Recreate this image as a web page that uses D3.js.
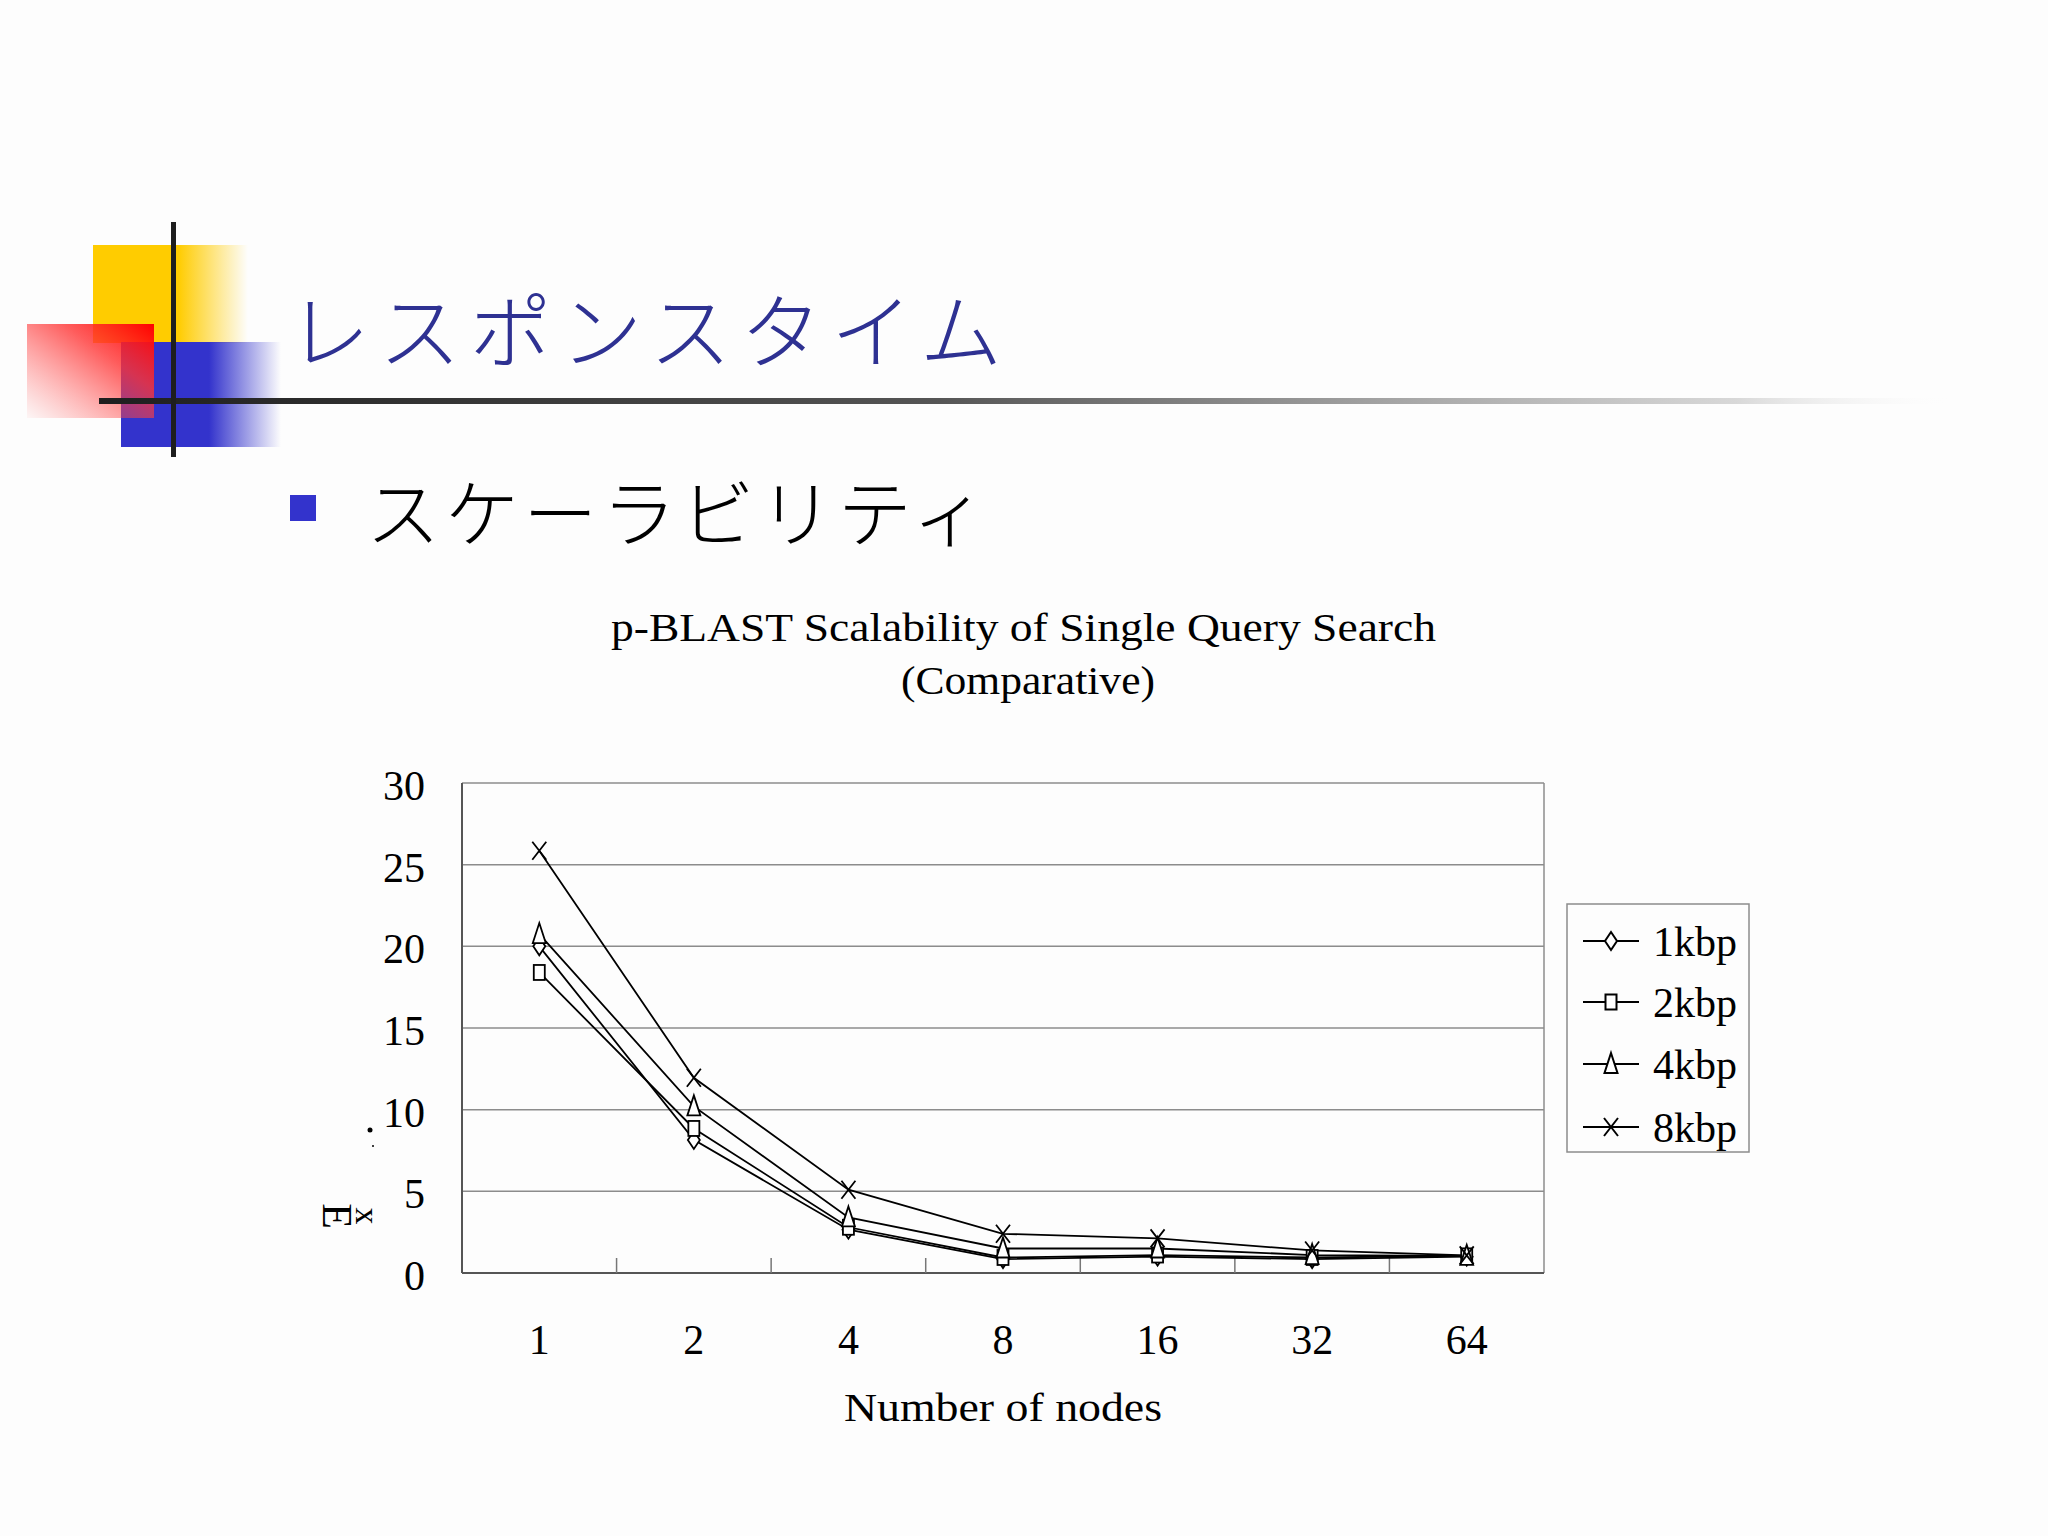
<!DOCTYPE html>
<html><head><meta charset="utf-8">
<script src="https://cdn.jsdelivr.net/npm/d3@7"></script>
<style>html,body{margin:0;padding:0;background:#fdfdfd;}svg{display:block;}</style>
</head><body>
<script>
const categories = ["1","2","4","8","16","32","64"];
const s1kbp = [20.0, 8.15, 2.65, 0.85, 1.0, 0.85, 1.0];
const s2kbp = [18.4, 8.85, 2.8, 0.95, 1.1, 0.95, 1.05];
const s4kbp = [20.75, 10.2, 3.4, 1.5, 1.5, 1.1, 1.05];
const s8kbp = [25.85, 11.95, 5.1, 2.4, 2.12, 1.38, 1.08];
const seriesNames = ["1kbp","2kbp","4kbp","8kbp"];
const seriesValues = [s1kbp, s2kbp, s4kbp, s8kbp];
const markerTypes = ["diamond","square","triangle","cross"];
const yTicks = [0,5,10,15,20,25,30];
const headerTitle = "レスポンスタイム";
const bulletText = "スケーラビリティ";
const chartTitle1 = "p-BLAST Scalability of Single Query Search";
const chartTitle2 = "(Comparative)";
const xTitle = "Number of nodes";

(function () {
const W = 2048, H = 1536;
const svg = d3.select("body").append("svg").attr("width", W).attr("height", H);
svg.append("rect").attr("width", W).attr("height", H).attr("fill", "#fdfdfd");
const defs = svg.append("defs");

function lg(id, x1, y1, x2, y2, stops) {
  const g = defs.append("linearGradient").attr("id", id)
    .attr("x1", x1).attr("y1", y1).attr("x2", x2).attr("y2", y2);
  stops.forEach(s => g.append("stop").attr("offset", s[0]).attr("stop-color", s[1]).attr("stop-opacity", s[2] ?? 1));
}
lg("gY", "0", "0", "1", "0", [["0", "#ffcc00"], ["0.55", "#ffcc00"], ["1", "#ffcc00", 0]]);
lg("gB", "0", "0", "1", "0", [["0", "#3333cc"], ["0.55", "#3333cc"], ["1", "#3333cc", 0]]);
lg("gR", "1", "0", "0", "1", [["0", "#ff0000"], ["0.35", "#ff3333", 0.8], ["1", "#ff6666", 0.05]]);
lg("gH", "0", "0", "1", "0", [["0", "#1e1e1e"], ["0.45", "#555555"], ["0.7", "#a6a6a6"], ["0.88", "#d8d8d8"], ["1", "#ffffff", 0]]);

svg.append("rect").attr("x", 93).attr("y", 245).attr("width", 155).attr("height", 98).attr("fill", "url(#gY)");
svg.append("rect").attr("x", 121).attr("y", 342).attr("width", 160).attr("height", 105).attr("fill", "url(#gB)");
svg.append("rect").attr("x", 27).attr("y", 324).attr("width", 127).attr("height", 94).attr("fill", "url(#gR)");
svg.append("rect").attr("x", 99).attr("y", 398).attr("width", 1861).attr("height", 6).attr("fill", "url(#gH)");
svg.append("rect").attr("x", 171).attr("y", 222).attr("width", 5).attr("height", 235).attr("fill", "#1e1e1e");

svg.append("text").attr("x", 288).attr("y", 362)
  .attr("font-family", "'Noto Sans CJK JP'").attr("font-size", 82).attr("font-weight", 300)
  .attr("fill", "#2e3192").attr("textLength", 714).attr("lengthAdjust", "spacing").text(headerTitle);

svg.append("rect").attr("x", 290).attr("y", 495).attr("width", 26).attr("height", 26).attr("fill", "#3333cc");
svg.append("text").attr("x", 366).attr("y", 541)
  .attr("font-family", "'Noto Sans CJK JP'").attr("font-size", 74).attr("font-weight", 300)
  .attr("fill", "#000").attr("textLength", 620).attr("lengthAdjust", "spacing").text(bulletText);

const serif = "'Liberation Serif', 'DejaVu Serif', serif";
svg.append("text").attr("x", 611).attr("y", 641).attr("font-family", serif).attr("font-size", 40)
  .attr("textLength", 825).attr("lengthAdjust", "spacingAndGlyphs").text(chartTitle1);
svg.append("text").attr("x", 901).attr("y", 694).attr("font-family", serif).attr("font-size", 40)
  .attr("textLength", 254).attr("lengthAdjust", "spacingAndGlyphs").text(chartTitle2);

const pL = 462, pR = 1544, pT = 783, pB = 1273;
const x = d3.scaleBand().domain(categories).range([pL, pR]);
const y = d3.scaleLinear().domain([0, 30]).range([pB, pT]);

const g = svg.append("g");
g.selectAll("line.grid").data(yTicks.filter(t => t > 0)).join("line")
  .attr("x1", pL).attr("x2", pR).attr("y1", d => y(d)).attr("y2", d => y(d))
  .attr("stroke", "#8c8c8c").attr("stroke-width", 1.5);
g.append("line").attr("x1", pR).attr("x2", pR).attr("y1", pT).attr("y2", pB).attr("stroke", "#8c8c8c").attr("stroke-width", 1.5);
g.append("line").attr("x1", pL).attr("x2", pL).attr("y1", pT).attr("y2", pB).attr("stroke", "#555").attr("stroke-width", 2);
g.append("line").attr("x1", pL).attr("x2", pR).attr("y1", pB).attr("y2", pB).attr("stroke", "#555").attr("stroke-width", 2);
const bounds = categories.slice(1).map(c => x(c));
g.selectAll("line.sep").data(bounds).join("line")
  .attr("x1", d => d).attr("x2", d => d).attr("y1", pB).attr("y2", pB - 15)
  .attr("stroke", "#777").attr("stroke-width", 1.5);

g.selectAll("text.yt").data(yTicks).join("text")
  .attr("x", 425).attr("y", d => y(d) + 17).attr("text-anchor", "end")
  .attr("font-family", serif).attr("font-size", 42).text(d => d);
g.selectAll("text.xt").data(categories).join("text")
  .attr("x", d => x(d) + x.bandwidth() / 2).attr("y", 1354).attr("text-anchor", "middle")
  .attr("font-family", serif).attr("font-size", 42).text(d => d);
svg.append("text").attr("x", 844).attr("y", 1421).attr("font-family", serif).attr("font-size", 40)
  .attr("textLength", 318).attr("lengthAdjust", "spacingAndGlyphs").text(xTitle);
svg.append("text").attr("transform", "translate(323,1216) rotate(90)").attr("text-anchor", "middle")
  .attr("font-family", serif).attr("font-size", 42).text("E");
svg.append("text").attr("transform", "translate(356,1216) rotate(90)").attr("text-anchor", "middle")
  .attr("font-family", serif).attr("font-size", 34).text("x");
svg.append("circle").attr("cx", 370).attr("cy", 1130).attr("r", 2.5).attr("fill", "#000");
svg.append("circle").attr("cx", 373).attr("cy", 1146).attr("r", 1).attr("fill", "#000");

const cx = c => x(c) + x.bandwidth() / 2;
const line = d3.line().x((d, i) => cx(categories[i])).y(d => y(d));

function marker(sel, type) {
  if (type === "diamond") sel.append("path").attr("d", "M0,-9L6,0L0,9L-6,0Z");
  else if (type === "square") sel.append("rect").attr("x", -5.5).attr("y", -7.5).attr("width", 11).attr("height", 15);
  else if (type === "triangle") sel.append("path").attr("d", "M0,-11L6.5,9L-6.5,9Z");
  else sel.append("path").attr("d", "M-7,-9L7,9M7,-9L-7,9");
}

seriesValues.forEach((vals) => {
  g.append("path").datum(vals).attr("d", line).attr("fill", "none").attr("stroke", "#000").attr("stroke-width", 1.8);
});
seriesValues.forEach((vals, si) => {
  vals.forEach((v, i) => {
    const m = g.append("g").attr("transform", `translate(${cx(categories[i])},${y(v)})`)
      .attr("fill", "#fff").attr("stroke", "#000").attr("stroke-width", 1.8);
    marker(m, markerTypes[si]);
  });
});

svg.append("rect").attr("x", 1567).attr("y", 904).attr("width", 182).attr("height", 248)
  .attr("fill", "#fdfdfd").attr("stroke", "#8c8c8c").attr("stroke-width", 1.5);
const rows = [941, 1002, 1064, 1127];
seriesNames.forEach((n, i) => {
  svg.append("line").attr("x1", 1583).attr("x2", 1639).attr("y1", rows[i]).attr("y2", rows[i])
    .attr("stroke", "#000").attr("stroke-width", 2);
  const m = svg.append("g").attr("transform", `translate(1611,${rows[i]})`)
    .attr("fill", "#fff").attr("stroke", "#000").attr("stroke-width", 2);
  marker(m, markerTypes[i]);
  svg.append("text").attr("x", 1653).attr("y", rows[i] + 15).attr("font-family", serif)
    .attr("font-size", 42).text(n);
});
})();
</script>
</body></html>
